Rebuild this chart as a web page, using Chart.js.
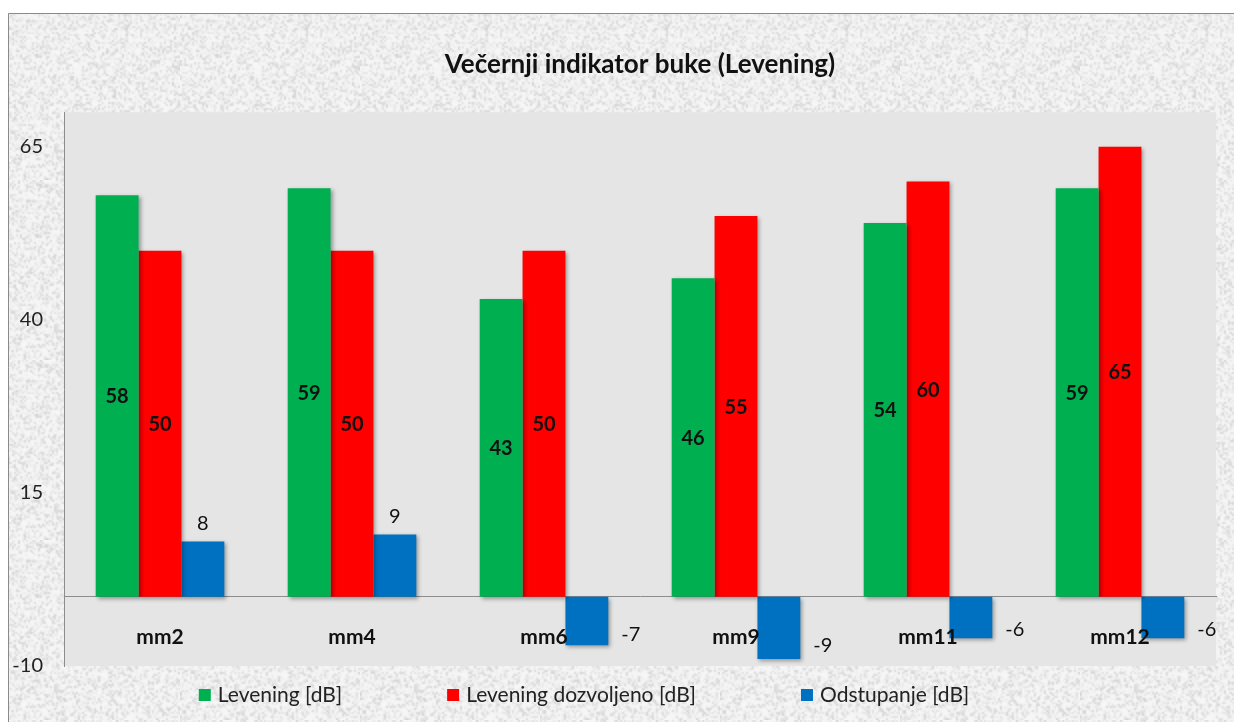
<!DOCTYPE html>
<html>
<head>
<meta charset="utf-8">
<script src="https://cdn.jsdelivr.net/npm/chart.js@4.4.1/dist/chart.umd.min.js"></script>
<style>
  html, body { margin: 0; padding: 0; background: #fff; }
  #wrap { width: 1234px; height: 722px; position: relative; }
</style>
</head>
<body>
<div id="wrap"><canvas id="chart"></canvas></div>
<script>
// --- data ---
const categories = ['mm2', 'mm4', 'mm6', 'mm9', 'mm11', 'mm12'];
const levening = [58, 59, 43, 46, 54, 59];
const leveningDozvoljeno = [50, 50, 50, 55, 60, 65];
const odstupanje = [8, 9, -7, -9, -6, -6];
const yTicks = [-10, 15, 40, 65];
const seriesNames = ['Levening [dB]', 'Levening dozvoljeno [dB]', 'Odstupanje [dB]'];
const seriesColors = ['#00B050', '#FF0000', '#0070C0'];

const FONT = "'Lato', 'Open Sans', sans-serif";

// soft grainy paper texture for the outer frame (deterministic)
function makeTexture() {
    const n = 90;
    const small = document.createElement('canvas');
    small.width = n; small.height = n;
    const sg = small.getContext('2d');
    const img = sg.createImageData(n, n);
    let s = 98765;
    const rnd = () => { s = (s * 1103515245 + 12345) & 0x7fffffff; return s / 0x7fffffff; };
    for (let i = 0; i < n * n; i++) {
        const v = 247 - Math.floor(Math.pow(rnd(), 2.6) * 38);
        img.data[i * 4] = img.data[i * 4 + 1] = img.data[i * 4 + 2] = v;
        img.data[i * 4 + 3] = 255;
    }
    sg.putImageData(img, 0, 0);
    const c = document.createElement('canvas');
    c.width = n * 2; c.height = n * 2;
    const g = c.getContext('2d');
    g.imageSmoothingEnabled = true;
    g.drawImage(small, 0, 0, n * 2, n * 2);
    return c;
}
const texture = makeTexture();

const framePlugin = {
    id: 'frame',
    beforeDraw(chart) {
        const { ctx, chartArea: a } = chart;
        ctx.save();
        ctx.fillStyle = '#ffffff';
        ctx.fillRect(0, 0, chart.width, chart.height);
        ctx.fillStyle = ctx.createPattern(texture, 'repeat');
        ctx.fillRect(9, 14, chart.width - 9, chart.height - 14);
        ctx.strokeStyle = '#8a8a8a';
        ctx.lineWidth = 1;
        ctx.beginPath();
        ctx.moveTo(8.5, chart.height);
        ctx.lineTo(8.5, 13.5);
        ctx.lineTo(chart.width, 13.5);
        ctx.stroke();
        ctx.fillStyle = '#E6E5E6';
        ctx.fillRect(a.left, a.top, a.right - a.left, a.bottom - a.top);
        ctx.restore();
    }
};

const shadowPlugin = {
    id: 'barShadow',
    beforeDatasetsDraw(chart) {
        const ctx = chart.ctx;
        ctx.save();
        ctx.shadowColor = 'rgba(0,0,0,0.35)';
        ctx.shadowBlur = 4;
        ctx.shadowOffsetX = 2;
        ctx.shadowOffsetY = 2;
    },
    afterDatasetsDraw(chart) {
        chart.ctx.restore();
    }
};

const valueLabels = {
    id: 'valueLabels',
    afterDatasetsDraw(chart) {
        const ctx = chart.ctx;
        ctx.save();
        ctx.fillStyle = '#111';
        chart.data.datasets.forEach((ds, di) => {
            const meta = chart.getDatasetMeta(di);
            meta.data.forEach((bar, i) => {
                const v = ds.data[i];
                if (di < 2) {
                    ctx.font = 'bold 20px ' + FONT;
                    ctx.textAlign = 'center';
                    ctx.textBaseline = 'middle';
                    ctx.fillText(v, bar.x, (bar.y + bar.base) / 2 + 1);
                } else {
                    ctx.font = '20px ' + FONT;
                    ctx.textBaseline = 'middle';
                    if (v >= 0) {
                        ctx.textAlign = 'center';
                        ctx.fillText(v, bar.x, bar.y - 18);
                    } else {
                        ctx.textAlign = 'left';
                        ctx.fillText(v, bar.x + bar.width / 2 + 13, bar.base + (bar.y - bar.base) * 0.78);
                    }
                }
            });
        });
        ctx.restore();
    }
};

// legend drawn by hand so the wide gaps of the original can be kept
const bottomLegend = {
    id: 'bottomLegend',
    afterDraw(chart) {
        const ctx = chart.ctx;
        const box = 12, gap = 7, spacing = 105, y = 695;
        ctx.save();
        ctx.font = '21px ' + FONT;
        ctx.textBaseline = 'middle';
        ctx.textAlign = 'left';
        const items = chart.data.datasets.map(ds => ({ text: ds.label, color: ds.backgroundColor, w: box + gap + ctx.measureText(ds.label).width }));
        const total = items.reduce((t, it) => t + it.w, 0) + spacing * (items.length - 1);
        let x = 584 - total / 2;
        items.forEach(it => {
            ctx.fillStyle = it.color;
            ctx.fillRect(x, y - box / 2, box, box);
            ctx.fillStyle = '#222';
            ctx.fillText(it.text, x + box + gap, y);
            x += it.w + spacing;
        });
        ctx.restore();
    }
};

new Chart(document.getElementById('chart'), {
    type: 'bar',
    data: {
        labels: categories,
        datasets: [
            { label: seriesNames[0], data: levening, backgroundColor: seriesColors[0] },
            { label: seriesNames[1], data: leveningDozvoljeno, backgroundColor: seriesColors[1] },
            { label: seriesNames[2], data: odstupanje, backgroundColor: seriesColors[2] }
        ]
    },
    options: {
        responsive: true,
        maintainAspectRatio: false,
        animation: false,
        layout: { padding: { left: 0, right: 18, top: 13, bottom: 56 } },
        datasets: { bar: { categoryPercentage: 0.67, barPercentage: 1.0 } },
        plugins: {
            legend: { display: false },
            tooltip: { enabled: false },
            title: {
                display: true,
                fullSize: false,
                text: 'Večernji indikator buke (Levening)',
                color: '#111',
                font: { family: FONT, size: 26, weight: 'bold' },
                padding: { top: 36, bottom: 32 }
            }
        },
        scales: {
            x: {
                position: { y: 0 },
                grid: { display: false },
                border: { display: true, color: '#8c8c8c', width: 1 },
                ticks: { z: 1, color: '#111', padding: 20, font: { family: FONT, size: 21, weight: 'bold' } }
            },
            y: {
                min: -10,
                max: 70,
                afterBuildTicks: s => { s.ticks = yTicks.map(v => ({ value: v })); },
                afterFit: s => { s.width = 64; },
                grid: { display: false, drawTicks: false },
                border: { display: true, color: '#8c8c8c', width: 1 },
                ticks: { color: '#222', padding: 21, font: { family: FONT, size: 20 } }
            }
        }
    },
    plugins: [framePlugin, shadowPlugin, valueLabels, bottomLegend]
});
</script>
</body>
</html>
